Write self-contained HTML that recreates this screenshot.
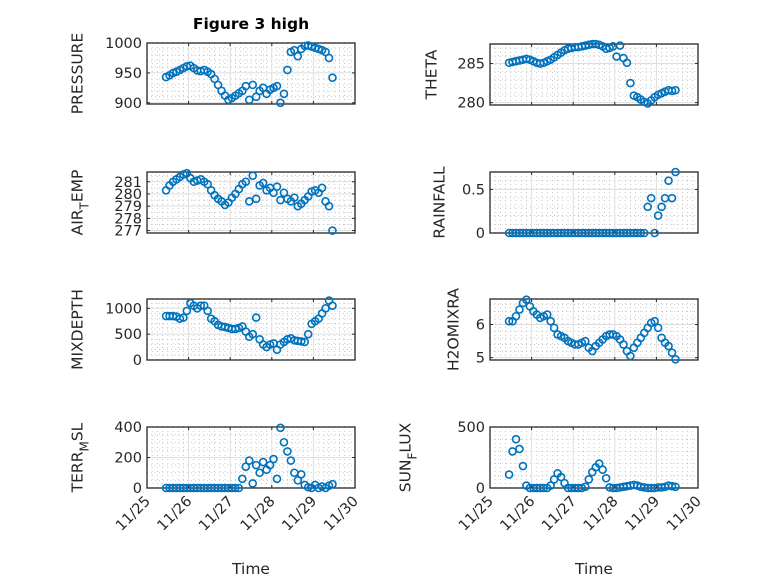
<!DOCTYPE html>
<html><head><meta charset="utf-8"><style>
body{margin:0;background:#fff;}
svg{display:block;font-family:"DejaVu Sans","Liberation Sans",sans-serif;}
</style></head><body>
<svg id="fig" width="778" height="583" viewBox="0 0 778 583">
<text x="251" y="29" text-anchor="middle" font-size="15.5" font-weight="bold" fill="#000">Figure 3 high</text>
</svg>
<script>
const hours = [11,13,15,17,19,21,23,25,27,29,31,33,35,37,39,41,43,45,47,49,51,53,55,57,59,61,63,65,67,69,71,73,75,77,79,81,83,85,87,89,91,93,95,97,99,101,103,105,107];
const pressure = [943,946,950,952,955,958,961,962,958,954,953,955,952,948,940,930,920,912,905,908,912,916,920,928,905,930,910,920,925,915,922,925,928,900,915,955,985,988,978,990,995,996,994,992,990,988,985,975,942];
const theta = [285.1,285.2,285.3,285.4,285.5,285.6,285.5,285.3,285.1,285.0,285.1,285.3,285.5,285.8,286.1,286.4,286.7,286.9,287.0,287.1,287.1,287.2,287.3,287.4,287.5,287.5,287.4,287.2,286.9,287.0,287.2,285.9,287.3,285.7,285.1,282.5,280.9,280.7,280.4,280.1,279.9,280.3,280.7,281.0,281.2,281.4,281.6,281.5,281.6];
const airTemp = [280.3,280.7,281.0,281.2,281.4,281.6,281.7,281.3,281.0,281.1,281.2,281.0,280.8,280.3,279.9,279.6,279.4,279.1,279.3,279.7,280.0,280.4,280.8,281.0,279.4,281.5,279.6,280.7,280.9,280.3,280.5,280.1,280.6,279.5,280.1,279.6,279.4,279.7,279.0,279.2,279.5,279.8,280.2,280.3,280.1,280.5,279.4,279.0,277.0];
const rainfall = [0,0,0,0,0,0,0,0,0,0,0,0,0,0,0,0,0,0,0,0,0,0,0,0,0,0,0,0,0,0,0,0,0,0,0,0,0,0,0,0,0.3,0.4,0,0.2,0.3,0.4,0.6,0.4,0.7];
const mixDepth = [850,850,850,840,800,820,950,1100,1050,1000,1050,1050,950,800,750,680,650,640,620,600,600,620,650,550,450,500,820,400,300,250,300,320,200,300,350,400,420,380,370,360,350,500,700,750,800,900,1000,1150,1050];
const h2oMixRa = [6.1,6.1,6.25,6.45,6.65,6.75,6.55,6.4,6.3,6.2,6.25,6.3,6.1,5.9,5.7,5.65,5.6,5.5,5.45,5.4,5.4,5.45,5.5,5.3,5.2,5.35,5.45,5.55,5.65,5.7,5.7,5.65,5.55,5.4,5.2,5.05,5.3,5.45,5.6,5.75,5.9,6.05,6.1,5.9,5.6,5.45,5.35,5.15,4.95];
const terrMsl = [0,0,0,0,0,0,0,0,0,0,0,0,0,0,0,0,0,0,0,0,0,0,60,140,180,30,150,100,170,120,150,190,60,395,300,240,180,100,50,90,20,5,0,20,0,10,0,15,25];
const sunFlux = [110,300,400,320,180,20,0,0,0,0,0,0,20,70,120,90,40,0,0,0,0,0,10,70,130,170,200,150,80,5,0,0,5,10,15,20,25,20,10,5,0,0,0,5,5,10,20,15,10];
const dayTicks = ["11/25","11/26","11/27","11/28","11/29","11/30"];

const NS="http://www.w3.org/2000/svg";
const svg=document.getElementById('fig');
function mk(tag,attrs,parent){const e=document.createElementNS(NS,tag);for(const k in attrs)e.setAttribute(k,attrs[k]);(parent||svg).appendChild(e);return e;}

const panels=[
 {name:'pressure',x0:147,y0:43,data:pressure,yMin:898,yMax:1000,yt:[900,950,1000],minor:10,label:['PRESSURE'],lx:77,xl:false},
 {name:'theta',x0:490,y0:44,data:theta,yMin:279.7,yMax:287.5,yt:[280,285],minor:1,label:['THETA'],lx:431,xl:false},
 {name:'air-temp',x0:147,y0:172,data:airTemp,yMin:276.8,yMax:281.8,yt:[277,278,279,280,281],minor:0.5,label:['AIR','T','EMP'],lx:77,xl:false},
 {name:'rainfall',x0:490,y0:172,data:rainfall,yMin:0,yMax:0.7,yt:[0,0.5],minor:0.1,label:['RAINFALL'],lx:439,xl:false},
 {name:'mixdepth',x0:147,y0:299,data:mixDepth,yMin:0,yMax:1180,yt:[0,500,1000],minor:100,label:['MIXDEPTH'],lx:77,xl:false},
 {name:'h2omixra',x0:490,y0:299,data:h2oMixRa,yMin:4.93,yMax:6.77,yt:[5,6],minor:0.2,label:['H2OMIXRA'],lx:453,xl:false},
 {name:'terr-msl',x0:147,y0:427,data:terrMsl,yMin:0,yMax:400,yt:[0,200,400],minor:50,label:['TERR','M','SL'],lx:77,xl:true},
 {name:'sun-flux',x0:490,y0:427,data:sunFlux,yMin:0,yMax:500,yt:[0,500],minor:100,label:['SUN','F','LUX'],lx:405,xl:true}
];
const W=208,H=61;
panels.forEach(p=>{
  const g=mk('g',{});
  
  
  const xs=h=>p.x0+h/24*(W/5);
  const ys=v=>p.y0+H-(v-p.yMin)/(p.yMax-p.yMin)*H;
  for(let h=3;h<120;h+=3){if(h%24===0)continue;const x=xs(h);
    mk('line',{x1:x,x2:x,y1:p.y0,y2:p.y0+H,stroke:'#bdbdbd','stroke-width':0.8,'stroke-dasharray':'1,3'},g);}
  const start=Math.ceil(p.yMin/p.minor);
  for(let k=start;k*p.minor<=p.yMax+1e-9;k++){const v=k*p.minor;if(p.yt.some(t=>Math.abs(t-v)<1e-9))continue;const y=ys(v);
    mk('line',{x1:p.x0,x2:p.x0+W,y1:y,y2:y,stroke:'#bdbdbd','stroke-width':0.8,'stroke-dasharray':'1,3'},g);}
  for(let d=1;d<5;d++){const x=xs(d*24);mk('line',{x1:x,x2:x,y1:p.y0,y2:p.y0+H,stroke:'#dedede','stroke-width':1},g);}
  p.yt.forEach(v=>{const y=ys(v);mk('line',{x1:p.x0,x2:p.x0+W,y1:y,y2:y,stroke:'#dedede','stroke-width':1},g);
    mk('line',{x1:p.x0,x2:p.x0+3,y1:y,y2:y,stroke:'#262626'},g);
    mk('line',{x1:p.x0+W-3,x2:p.x0+W,y1:y,y2:y,stroke:'#262626'},g);
    const t=mk('text',{x:p.x0-5,y:y+5,'text-anchor':'end','font-size':14.5,fill:'#262626'},g);
    
    
    t.textContent=String(v);});
  dayTicks.forEach((lab,i)=>{const x=xs(i*24);
    mk('line',{x1:x,x2:x,y1:p.y0+H,y2:p.y0+H-3,stroke:'#262626'},g);
    mk('line',{x1:x,x2:x,y1:p.y0,y2:p.y0+3,stroke:'#262626'},g);
    if(p.xl){const t=mk('text',{x:x+4,y:p.y0+H+14,'text-anchor':'end','font-size':14.5,fill:'#262626',transform:`rotate(-45 ${x+4} ${p.y0+H+14})`},g);
      
      
      t.textContent=lab;}});
  mk('rect',{x:p.x0,y:p.y0,width:W,height:H,fill:'none',stroke:'#262626','stroke-width':1.3},g);
  p.data.forEach((v,i)=>{const c=mk('circle',{cx:xs(hours[i]),cy:ys(v),r:3.5,fill:'none',stroke:'#0072BD','stroke-width':1.6},g);
    
    });
  const cy=p.y0+H/2;
  const t=mk('text',{x:p.lx,y:cy,'text-anchor':'middle','font-size':15.5,fill:'#262626',transform:`rotate(-90 ${p.lx} ${cy})`,dy:'0.35em'},g);
  
  
  if(p.label.length===1){t.textContent=p.label[0];}
  else{const a=mk('tspan',{},t);a.textContent=p.label[0];
    const b=mk('tspan',{dy:6,'font-size':12},t);b.textContent=p.label[1];
    const c=mk('tspan',{dy:-6},t);c.textContent=p.label[2];}
  if(p.xl){const tt=mk('text',{x:p.x0+W/2,y:574,'text-anchor':'middle','font-size':15.5,fill:'#262626'},g);
    
    
    tt.textContent='Time';}
});
</script>
</body></html>
